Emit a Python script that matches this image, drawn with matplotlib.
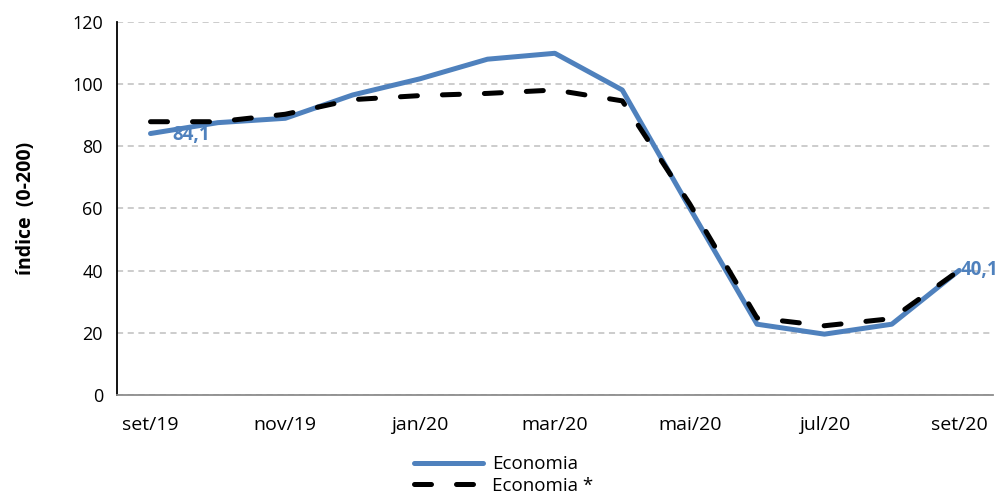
import matplotlib
matplotlib.use("Agg")
from matplotlib import pyplot as plt

# monthly index values, set/19 .. set/20
months = ["set/19", "out/19", "nov/19", "dez/19", "jan/20", "fev/20", "mar/20",
          "abr/20", "mai/20", "jun/20", "jul/20", "ago/20", "set/20"]
economia = [84.1, 87.6, 89.0, 96.5, 101.7, 108.0, 109.9,
            98.1, 60.2, 22.8, 19.6, 22.8, 40.1]
economia_star = [87.9, 87.9, 90.3, 95.0, 96.3, 97.0, 98.1,
                 94.6, 61.5, 24.8, 22.3, 24.6, 40.1]
y_ticks = [0, 20, 40, 60, 80, 100, 120]

plt.rcParams['font.family'] = ['Open Sans', 'DejaVu Sans']
fs = 13

fig = plt.figure(figsize=(10.07, 4.97), dpi=100)
ax = fig.add_axes([0.116, 0.205, 0.870, 0.751])

x = list(range(len(months)))
ax.plot(x, economia, color='#4f81bd', lw=3.6, label='Economia', zorder=2,
        solid_capstyle='round')
ax.plot(x, economia_star, color='black', lw=3.6, dashes=(3.4, 5.0),
        dash_capstyle='round', label='Economia *', zorder=3)

ax.annotate("84,1", (x[0], economia[0]), xytext=(16, -1), textcoords='offset points',
            color='#4f81bd', fontsize=13.5, fontweight='bold', ha='left', va='center')
ax.annotate("40,1", (x[-1], economia[-1]), xytext=(1, 0), textcoords='offset points',
            color='#4f81bd', fontsize=13.5, fontweight='bold', ha='left', va='center')

ax.set_xlim(-0.5, len(months) - 0.5)
ax.set_ylim(0, 120)
ax.set_yticks(y_ticks)
ax.set_xticks(x[::2])
ax.set_xticklabels(months[::2])
ax.tick_params(axis='y', length=0, labelsize=fs, pad=10)
ax.tick_params(axis='x', length=0, labelsize=14, pad=15)

ax.grid(axis='y', color='#bfbfbf', ls=(0, (4, 3)), lw=1.1)
ax.set_axisbelow(True)
for s in ['top', 'right']:
    ax.spines[s].set_visible(False)
ax.spines['left'].set_color('black')
ax.spines['left'].set_linewidth(1.3)
ax.spines['bottom'].set_color('#8c8c8c')
ax.spines['bottom'].set_linewidth(1.3)

ax.set_ylabel("índice  (0-200)", fontsize=14, fontweight='bold', labelpad=26)

fig.legend(loc='center', bbox_to_anchor=(0.5, 0.044), frameon=False, ncol=1,
           fontsize=13.5, handlelength=3.7, handletextpad=0.45, labelspacing=0.2,
           borderaxespad=0)

fig.savefig("out.png", dpi=100)
